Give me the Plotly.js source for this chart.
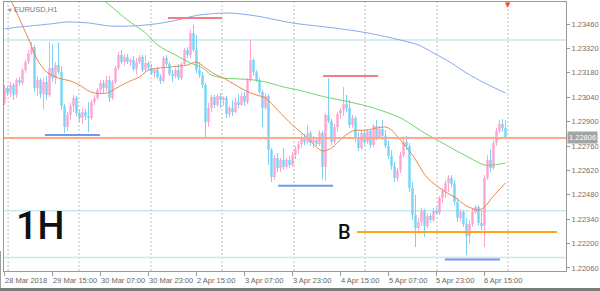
<!DOCTYPE html>
<html><head><meta charset="utf-8">
<script src="https://cdn.plot.ly/plotly-3.0.1.min.js"></script>
<style>html,body{margin:0;padding:0;background:#fff;overflow:hidden}#chart{width:600px;height:291px}</style>
</head><body><div id="chart"></div>
<script>
// EURUSD H1, 28 Mar 2018 23:00 -> 6 Apr 2018 (hourly bars, index 0..167)
const openP = [1.23007,
1.23093,1.23064,1.23110,1.23053,1.23139,1.23122,1.23196,1.23242,1.23294,1.23328,
1.23093,1.23139,1.23058,1.23127,1.23053,1.23208,1.23150,1.23225,1.23185,1.22990,
1.22869,1.22938,1.22990,1.23035,1.22949,1.22921,1.22955,1.22932,1.22921,1.23013,
1.23035,1.23081,1.23122,1.23093,1.23139,1.23035,1.23127,1.23208,1.23282,1.23242,
1.23271,1.23242,1.23254,1.23202,1.23242,1.23271,1.23196,1.23236,1.23208,1.23179,
1.23196,1.23156,1.23133,1.23265,1.23231,1.23173,1.23162,1.23196,1.23150,1.23231,
1.23311,1.23282,1.23409,1.23311,1.23196,1.23167,1.23110,1.22898,1.22978,1.23041,
1.22995,1.23047,1.23024,1.23035,1.22944,1.22978,1.22955,1.23013,1.22995,1.23047,
1.23013,1.23139,1.23254,1.23185,1.23139,1.23070,1.22978,1.23047,1.22737,1.22582,
1.22691,1.22634,1.22680,1.22639,1.22680,1.22651,1.22708,1.22743,1.22771,1.22812,
1.22783,1.22835,1.22777,1.22794,1.22771,1.22835,1.22639,1.22938,1.22903,1.22783,
1.22869,1.22944,1.22967,1.23001,1.22978,1.22880,1.22921,1.22806,1.22748,1.22835,
1.22783,1.22846,1.22766,1.22875,1.22812,1.22857,1.22817,1.22760,1.22703,1.22645,
1.22576,1.22622,1.22708,1.22783,1.22760,1.22519,1.22364,1.22289,1.22324,1.22387,
1.22301,1.22358,1.22335,1.22387,1.22375,1.22461,1.22502,1.22548,1.22576,1.22542,
1.22438,1.22347,1.22381,1.22312,1.22243,1.22312,1.22381,1.22410,1.22318,1.22301,
1.22576,1.22680,1.22634,1.22777,1.22846,1.22886,1.22863];
const highP = [
1.23110,1.23104,1.23127,1.23122,1.23150,1.23156,1.23208,1.23254,1.23311,1.23357,
1.23340,1.23162,1.23150,1.23150,1.23162,1.23357,1.23345,1.23242,1.23357,1.23219,
1.23001,1.22955,1.23007,1.23053,1.23047,1.22967,1.22978,1.22972,1.23013,1.23024,
1.23053,1.23093,1.23139,1.23139,1.23162,1.23162,1.23139,1.23219,1.23300,1.23311,
1.23288,1.23288,1.23265,1.23277,1.23265,1.23282,1.23282,1.23282,1.23248,1.23231,
1.23208,1.23213,1.23173,1.23277,1.23282,1.23242,1.23196,1.23208,1.23231,1.23242,
1.23322,1.23328,1.23426,1.23455,1.23397,1.23242,1.23185,1.23122,1.23007,1.23053,
1.23053,1.23058,1.23064,1.23047,1.23047,1.22990,1.23024,1.23035,1.23058,1.23064,
1.23070,1.23150,1.23368,1.23265,1.23196,1.23150,1.23081,1.23064,1.23058,1.22748,
1.22708,1.22720,1.22691,1.22748,1.22691,1.22703,1.22726,1.22760,1.22789,1.22829,
1.22829,1.22880,1.22846,1.22817,1.22812,1.22852,1.22846,1.22949,1.23150,1.22915,
1.22886,1.22955,1.22978,1.23099,1.23053,1.23024,1.22938,1.22932,1.22840,1.22852,
1.22846,1.22857,1.22857,1.22886,1.22909,1.22875,1.22909,1.22852,1.22794,1.22737,
1.22668,1.22634,1.22726,1.22800,1.22817,1.22777,1.22553,1.22479,1.22347,1.22404,
1.22398,1.22375,1.22375,1.22404,1.22410,1.22473,1.22519,1.22565,1.22593,1.22593,
1.22565,1.22461,1.22398,1.22393,1.22347,1.22335,1.22404,1.22421,1.22421,1.22393,
1.22593,1.22708,1.22737,1.22794,1.22863,1.22909,1.22915,1.22909];
const lowP = [
1.22995,1.23047,1.23041,1.23024,1.23035,1.23104,1.23110,1.23179,1.23231,1.23282,
1.23070,1.23047,1.23035,1.22967,1.23024,1.23041,1.23127,1.23116,1.23173,1.22967,
1.22835,1.22846,1.22909,1.22955,1.22932,1.22898,1.22886,1.22909,1.22840,1.22909,
1.22995,1.23024,1.23058,1.23064,1.23076,1.23013,1.23024,1.23116,1.23196,1.23231,
1.23219,1.23231,1.23219,1.23190,1.23173,1.23231,1.23185,1.23185,1.23196,1.23167,
1.23150,1.23145,1.23116,1.23122,1.23219,1.23162,1.23127,1.23150,1.23139,1.23139,
1.23219,1.23265,1.23265,1.23300,1.23179,1.23150,1.23093,1.22806,1.22869,1.22955,
1.22978,1.22984,1.22978,1.22990,1.22921,1.22926,1.22932,1.22949,1.22978,1.22990,
1.22990,1.23001,1.23127,1.23162,1.23127,1.23058,1.22869,1.22967,1.22651,1.22553,
1.22565,1.22611,1.22611,1.22622,1.22628,1.22634,1.22639,1.22685,1.22714,1.22748,
1.22766,1.22771,1.22760,1.22748,1.22760,1.22760,1.22565,1.22559,1.22892,1.22766,
1.22771,1.22840,1.22915,1.22932,1.22955,1.22863,1.22863,1.22783,1.22731,1.22737,
1.22766,1.22771,1.22748,1.22754,1.22794,1.22800,1.22794,1.22748,1.22685,1.22622,
1.22553,1.22559,1.22605,1.22691,1.22737,1.22496,1.22335,1.22180,1.22266,1.22301,
1.22238,1.22289,1.22318,1.22324,1.22364,1.22364,1.22433,1.22461,1.22496,1.22525,
1.22421,1.22324,1.22329,1.22295,1.22134,1.22197,1.22295,1.22370,1.22301,1.22278,
1.22180,1.22565,1.22611,1.22622,1.22760,1.22835,1.22840,1.22800];
const closeP = [
1.23093,1.23064,1.23110,1.23053,1.23139,1.23122,1.23196,1.23242,1.23294,1.23328,
1.23093,1.23139,1.23058,1.23127,1.23053,1.23208,1.23150,1.23225,1.23185,1.22990,
1.22869,1.22938,1.22990,1.23035,1.22949,1.22921,1.22955,1.22932,1.22921,1.23013,
1.23035,1.23081,1.23122,1.23093,1.23139,1.23035,1.23127,1.23208,1.23282,1.23242,
1.23271,1.23242,1.23254,1.23202,1.23242,1.23271,1.23196,1.23236,1.23208,1.23179,
1.23196,1.23156,1.23133,1.23265,1.23231,1.23173,1.23162,1.23196,1.23150,1.23231,
1.23311,1.23282,1.23409,1.23311,1.23196,1.23167,1.23110,1.22898,1.22978,1.23041,
1.22995,1.23047,1.23024,1.23035,1.22944,1.22978,1.22955,1.23013,1.22995,1.23047,
1.23013,1.23139,1.23254,1.23185,1.23139,1.23070,1.22978,1.23047,1.22737,1.22582,
1.22691,1.22634,1.22680,1.22639,1.22680,1.22651,1.22708,1.22743,1.22771,1.22812,
1.22783,1.22835,1.22777,1.22794,1.22771,1.22835,1.22639,1.22938,1.22903,1.22783,
1.22869,1.22944,1.22967,1.23001,1.22978,1.22880,1.22921,1.22806,1.22748,1.22835,
1.22783,1.22846,1.22766,1.22875,1.22812,1.22857,1.22817,1.22760,1.22703,1.22645,
1.22576,1.22622,1.22708,1.22783,1.22760,1.22519,1.22364,1.22289,1.22324,1.22387,
1.22301,1.22358,1.22335,1.22387,1.22375,1.22461,1.22502,1.22548,1.22576,1.22542,
1.22438,1.22347,1.22381,1.22312,1.22243,1.22312,1.22381,1.22410,1.22318,1.22301,
1.22576,1.22680,1.22634,1.22777,1.22846,1.22886,1.22863,1.22806];
const bars = closeP.map((_, i) => i);

// moving averages (bar index, price)
const orangeBars = [0,3,5,8,11,14,18,22,25,28,30,34,38,41,45,48,52,55,61,64,67,70,73,77,80,83,87,91,96,101,104,106,109,113,116,121,124,127,129,132,136,141,147,150,154,158,160,163,167];
const orangeMA = [1.23667,1.23564,1.23489,1.23374,1.23254,1.23185,1.23150,1.23133,1.23110,1.23076,1.23064,1.23064,1.23099,1.23127,1.23156,1.23196,1.23208,1.23213,1.23225,1.23242,1.23208,1.23173,1.23150,1.23110,1.23081,1.23058,1.23035,1.22967,1.22880,1.22806,1.22754,1.22731,1.22748,1.22812,1.22846,1.22852,1.22863,1.22869,1.22852,1.22794,1.22708,1.22576,1.22496,1.22467,1.22416,1.22393,1.22410,1.22473,1.22548];
const greenBars = [31,35,41,47,51,57,62,66,69,73,78,83,87,93,98,107,115,123,132,140,146,152,157,160,163,167];
const greenMA = [1.23627,1.23569,1.23483,1.23409,1.23340,1.23282,1.23236,1.23208,1.23167,1.23150,1.23145,1.23139,1.23127,1.23099,1.23081,1.23041,1.23013,1.22978,1.22921,1.22835,1.22777,1.22720,1.22674,1.22651,1.22651,1.22662];
const blueBars = [0,5,15,21,28,35,43,50,56,65,75,84,96,110,121,132,138,143,149,154,160,167];
const blueMA = [1.23432,1.23443,1.23460,1.23472,1.23466,1.23449,1.23449,1.23460,1.23477,1.23512,1.23523,1.23506,1.23466,1.23437,1.23409,1.23368,1.23340,1.23294,1.23236,1.23179,1.23122,1.23064];

// axis ticks
const tickBars = [0,16,32,48,64,80,96,112,128,144,160];
const tickLabels = ["28 Mar 2018","29 Mar 15:00","30 Mar 07:00","30 Mar 23:00","2 Apr 15:00","3 Apr 07:00","3 Apr 23:00","4 Apr 15:00","5 Apr 07:00","5 Apr 23:00","6 Apr 15:00"];
const priceTicks = [1.23460,1.23320,1.23180,1.23040,1.22900,1.22760,1.22620,1.22480,1.22340,1.22200,1.22060];
const gridBars = [1.2,24.8,48.8,72.5,96.5,120.2,144.2,167.8];
const lastPrice = 1.22806;

// drawn objects
const cyanLevels = [1.23368, 1.22389, 1.22120];
const segStart = [13.5, 54.5, 106.2, 91.2, 146.8, 117.5];
const segEnd   = [31.8, 72.5, 124.5, 109.5, 165.2, 184.2];
const segPrice = [1.22823, 1.23495, 1.23162, 1.22532, 1.22109, 1.22266];
const segKind  = ['support','resist','resist','support','support','level'];

const PINK = '#FF5FAE', PINK_W = '#FFA3D1', BLUE = '#00B8F8', BLUE_W = '#80D0F6';
const segColors = {support:'#6F98EE', resist:'#F27E86', level:'#FFA516'};

const bodyHigh = openP.map((o,i)=>Math.max(o, closeP[i]));
const bodyLow  = openP.map((o,i)=>Math.min(o, closeP[i]));

const traces = [
  {type:'scatter', mode:'lines', x:blueBars, y:blueMA, line:{color:'#86A8F0', width:1, shape:'spline', smoothing:0.8}, hoverinfo:'skip'},
  {type:'scatter', mode:'lines', x:greenBars, y:greenMA, line:{color:'#6CD46C', width:1, shape:'spline', smoothing:0.8}, hoverinfo:'skip'},
  {type:'ohlc', x:bars, open:openP, high:highP, low:lowP, close:closeP, tickwidth:0,
   increasing:{line:{color:PINK_W, width:1}}, decreasing:{line:{color:BLUE_W, width:1}}, hoverinfo:'skip'},
  {type:'candlestick', x:bars, open:openP, high:bodyHigh, low:bodyLow, close:closeP, whiskerwidth:0,
   increasing:{line:{color:PINK, width:0}, fillcolor:PINK}, decreasing:{line:{color:BLUE, width:0}, fillcolor:BLUE}, hoverinfo:'skip'},
  {type:'scatter', mode:'lines', x:orangeBars, y:orangeMA, line:{color:'#E8864A', width:1, shape:'spline', smoothing:0.8}, hoverinfo:'skip'}
];

const shapes = [];
gridBars.forEach(g => shapes.push({type:'line', xref:'x', yref:'paper', x0:g, x1:g, y0:0, y1:1, layer:'below',
  line:{color:'#BDBDBD', width:1, dash:'2px,2px'}}));
cyanLevels.forEach(p => shapes.push({type:'line', xref:'paper', yref:'y', x0:0, x1:1, y0:p, y1:p, layer:'below',
  line:{color:'#C4E9EE', width:1.5}}));
shapes.push({type:'line', xref:'paper', yref:'y', x0:0, x1:1, y0:lastPrice, y1:lastPrice, layer:'above',
  line:{color:'#FFA88A', width:2}});
segPrice.forEach((p,i) => shapes.push({type:'line', xref:'x', yref:'y', x0:segStart[i], x1:segEnd[i], y0:p, y1:p, layer:'above',
  line:{color:segColors[segKind[i]], width:2}}));
// window frame
shapes.push({type:'rect', xref:'paper', yref:'paper', xsizemode:'pixel', ysizemode:'pixel', xanchor:0, yanchor:0,
  x0:-4, x1:-3, y0:20, y1:-269, line:{width:0}, fillcolor:'#A0A0A0'});
shapes.push({type:'rect', xref:'paper', yref:'paper', xsizemode:'pixel', ysizemode:'pixel', xanchor:0, yanchor:0,
  x0:-4, x1:600, y0:-17, y1:-20, line:{width:0}, fillcolor:'#7A7A7A'});

const ann = [];
tickBars.forEach((b,i) => ann.push({x:b, xref:'x', y:0, yref:'paper', yanchor:'top', xanchor:'left', xshift:-2, yshift:-3,
  text:tickLabels[i], showarrow:false, font:{family:'Liberation Sans, Arial, sans-serif', size:7.5, color:'#666'}}));
ann.push({x:1, xref:'paper', xanchor:'left', xshift:1, y:lastPrice, yref:'y', yanchor:'middle', text:'1.22806',
  showarrow:false, bgcolor:'#A4A4A4', borderpad:1, font:{family:'Liberation Sans, Arial, sans-serif', size:7.5, color:'#fff'}});
ann.push({x:0.0036, xref:'paper', y:1, yref:'paper', xanchor:'left', yanchor:'top', yshift:-3, text:'▼', showarrow:false,
  font:{family:'DejaVu Sans', size:5, color:'#9A9A9A'}});
ann.push({x:0.0142, xref:'paper', y:1, yref:'paper', xanchor:'left', yanchor:'top', yshift:-1, text:'EURUSD,H1', showarrow:false,
  font:{family:'Liberation Sans, Arial, sans-serif', size:7.5, color:'#7A7A7A'}});
ann.push({x:167.8, xref:'x', y:1, yref:'paper', xanchor:'center', yanchor:'top', yshift:3, text:'▼', showarrow:false,
  font:{family:'DejaVu Sans', size:7, color:'#FF4A10'}});
ann.push({x:0.0178, xref:'paper', y:0.169, yref:'paper', xanchor:'left', yanchor:'middle', text:'1H', showarrow:false,
  font:{family:'Roboto, Liberation Sans, sans-serif', size:38, weight:500, color:'#111'}});
ann.push({x:segStart[5], xref:'x', xshift:-4, y:segPrice[5], yref:'y', xanchor:'right', yanchor:'middle', text:'B', showarrow:false,
  font:{family:'Roboto, Liberation Sans, sans-serif', size:20, weight:500, color:'#111'}});

const layout = {
  width:600, height:291, margin:{l:4, r:34, t:2, b:20, pad:0},
  paper_bgcolor:'#fff', plot_bgcolor:'#fff', showlegend:false, boxgap:0.15, dragmode:false,
  xaxis:{range:[-0.17,187.17], showgrid:false, zeroline:false, tickvals:tickBars, showticklabels:false,
    ticks:'outside', ticklen:4, tickcolor:'#999', showline:true, mirror:true, linecolor:'#999', linewidth:1,
    rangeslider:{visible:false}, fixedrange:true},
  yaxis:{side:'right', range:[1.220425,1.235865], tickvals:priceTicks, tickformat:'.5f', showgrid:false, zeroline:false,
    ticks:'outside', ticklen:3, tickcolor:'#999', showline:true, mirror:true, linecolor:'#999', linewidth:1,
    tickfont:{family:'Liberation Sans, Arial, sans-serif', size:7.5, color:'#707070'}, fixedrange:true},
  shapes:shapes, annotations:ann
};
Plotly.newPlot('chart', traces, layout, {staticPlot:true, displayModeBar:false});
</script></body></html>
